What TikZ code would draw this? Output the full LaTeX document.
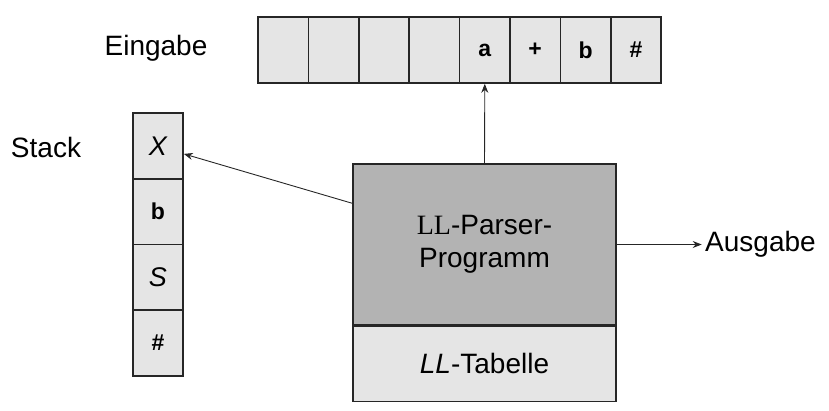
\documentclass[tikz,border=0pt]{standalone}
\usepackage{fontspec}
\setmainfont{Liberation Sans}
\newfontfamily\llserif{Liberation Serif}
\usetikzlibrary{arrows.meta, positioning}
\definecolor{cellgray}{HTML}{E5E5E5}
\definecolor{proggray}{HTML}{B3B3B3}

\begin{document}
\begin{tikzpicture}[
x=1pt, y=-1pt,
cell/.style = {draw=black!85, line width=1.6pt, fill=cellgray, minimum width=50.4pt, minimum height=66pt, inner sep=0pt, font=\fontsize{23}{26}\selectfont\bfseries},
box label/.style = {font=\fontsize{28}{33}\selectfont, align=center},
>={Stealth[length=9pt,width=7pt]},
]

\useasboundingbox (0,0) rectangle (829,410);

\node (eingabe) [box label] at (156,48) {Eingabe};
\node (stack) [box label] at (46,147) {Stack};

\foreach \s [count=\i] in {{},{},{},{},a,+,b,\#}
  \node (t\i) [cell] at ({258+50.4*(\i-0.5)},50) {\s};

\foreach \s [count=\i] in {{\fontsize{27}{30}\selectfont\mdseries\itshape X},b,{\fontsize{27}{30}\selectfont\mdseries\itshape S},\#}
  \node (s\i) [cell, minimum width=50pt, minimum height=65.75pt] at (158,{113+65.75*(\i-0.5)}) {\s};

\node (prog) [draw=black!85, line width=1.4pt, fill=proggray, minimum width=263pt, minimum height=161pt, box label] at (484.5,244.5) {{\llserif LL}-Parser-\\Programm};
\node (tab) [draw=black!85, line width=1.4pt, fill=cellgray, minimum width=263pt, minimum height=75pt, box label, below=0pt of prog] {\textit{LL}-Tabelle};

\node (ausgabe) [box label, right=85pt of prog] {Ausgabe};

\draw[->, line width=0.9pt, black!85] (prog.north) -- (t5.south);
\draw[->, line width=0.9pt, black!85] ([yshift=-40pt]prog.north west) -- ([yshift=-8pt]s1.east);
\draw[->, line width=0.9pt, black!85] (prog.east) -- (ausgabe.west);

\end{tikzpicture}
\end{document}
